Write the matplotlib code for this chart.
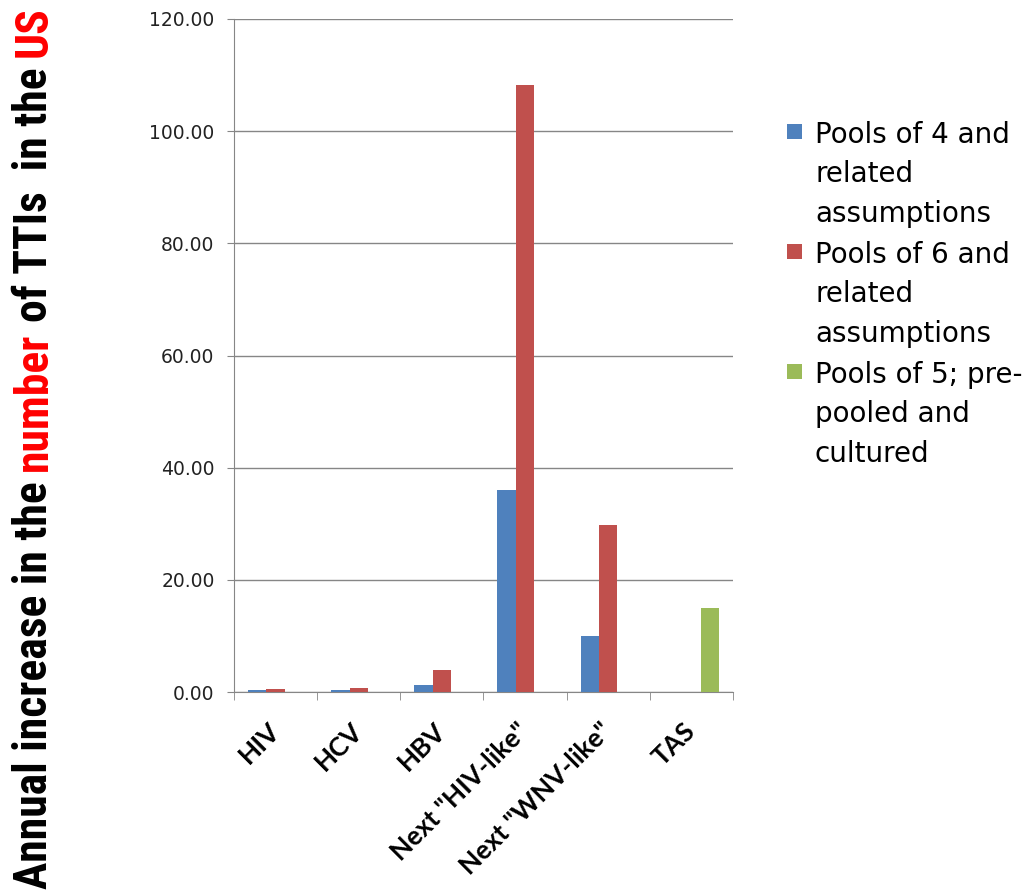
import numpy as np
import matplotlib
matplotlib.use("Agg")
import matplotlib.pyplot as plt
from matplotlib import font_manager
from matplotlib.patches import Rectangle

categories = ["HIV", "HCV", "HBV", 'Next "HIV-like"', 'Next "WNV-like"', "TAS"]
pools4 = [0.3, 0.3, 1.3, 36.0, 9.9, 0.0]
pools6 = [0.5, 0.7, 3.9, 108.2, 29.8, 0.0]
pools5 = [0.0, 0.0, 0.0, 0.0, 0.0, 15.0]
series_labels = [
    "Pools of 4 and\nrelated\nassumptions",
    "Pools of 6 and\nrelated\nassumptions",
    "Pools of 5; pre-\npooled and\ncultured",
]
colors = ["#4F81BD", "#C0504D", "#9BBB59"]
y_ticks = [0, 20, 40, 60, 80, 100, 120]
ylabel_parts = [
    ("Annual increase in the ", "black"),
    ("number", "red"),
    (" of TTIs  in the ", "black"),
    ("US", "red"),
]

available = {f.name for f in font_manager.fontManager.ttflist}


def pick(*names):
    return next((n for n in names if n in available), "DejaVu Sans")


narrow_font = pick("Liberation Sans Narrow", "DejaVu Sans Condensed",
                   "Roboto Condensed", "Open Sans Condensed", "DejaVu Sans")
label_font = pick("Lato", "Open Sans", "DejaVu Sans")

fig = plt.figure(figsize=(10.28, 8.94), dpi=100)
W, H = 1028, 894
ax = fig.add_axes([234 / W, 1 - 692 / H, (733 - 234) / W, (692 - 19) / H])

x = np.arange(len(categories))
width = 1 / 4.5
for i, (vals, col) in enumerate(zip([pools4, pools6, pools5], colors)):
    ax.bar(x + (i - 1) * width, vals, width, color=col, linewidth=0, zorder=3)

grid_col = "#868686"
ax.set_xlim(-0.5, len(categories) - 0.5)
ax.set_ylim(0, 120)
ax.set_yticks(y_ticks)
ax.set_yticklabels([f"{v:.2f}" for v in y_ticks], fontsize=13.5, color="#222222")
ax.yaxis.grid(True, color=grid_col, linewidth=1, zorder=0)
ax.set_xticks(x)
ax.set_xticks(np.arange(-0.5, len(categories)), minor=True)
ax.set_xticklabels(categories, rotation=45, ha="right", va="center",
                   rotation_mode="anchor", fontsize=19, fontweight="bold",
                   family=label_font)
ax.tick_params(axis="x", which="major", length=0, pad=25)
ax.tick_params(axis="x", which="minor", length=6, color=grid_col)
ax.tick_params(axis="y", length=5, color=grid_col, pad=9)
for side in ["top", "right"]:
    ax.spines[side].set_visible(False)
for side in ["left", "bottom"]:
    ax.spines[side].set_color(grid_col)

# legend: square beside the first line of each wrapped label
line_step = 40
for i, (lab, col) in enumerate(zip(series_labels, colors)):
    base = 142 + 120 * i
    n_lines = lab.count("\n")
    fig.patches.append(Rectangle((787 / W, 1 - (base - 3) / H), 15 / W, 15 / H,
                                 transform=fig.transFigure, facecolor=col,
                                 edgecolor="none"))
    # baseline alignment of multi-line text refers to the last line
    fig.text(815 / W, 1 - (base + n_lines * line_step) / H, lab, fontsize=20,
             va="baseline", ha="left", linespacing=1.53)

# multi-coloured y label, built piece by piece along the rotated baseline
renderer = fig.canvas.get_renderer()
full = "".join(p for p, _ in ylabel_parts)
ylab_kw = dict(fontweight="bold", family=narrow_font, fontstretch="condensed")


def text_width(s, size):
    t = fig.text(0, 0, s + "l", fontsize=size, **ylab_kw)
    w = t.get_window_extent(renderer).width
    t.remove()
    t = fig.text(0, 0, "l", fontsize=size, **ylab_kw)
    w -= t.get_window_extent(renderer).width
    t.remove()
    return w


size = 30 * 884 / text_width(full, 30)
y0 = 5
prefix = ""
for part, col in ylabel_parts:
    lead = len(part) - len(part.lstrip())
    start = text_width(prefix + part[:lead], size) if (prefix + part[:lead]) else 0
    fig.text(34 / W, (y0 + start) / H, part.strip(), fontsize=size, color=col,
             rotation=90, rotation_mode="anchor", ha="left", va="center",
             **ylab_kw)
    prefix += part

fig.savefig("out.png", dpi=100)
